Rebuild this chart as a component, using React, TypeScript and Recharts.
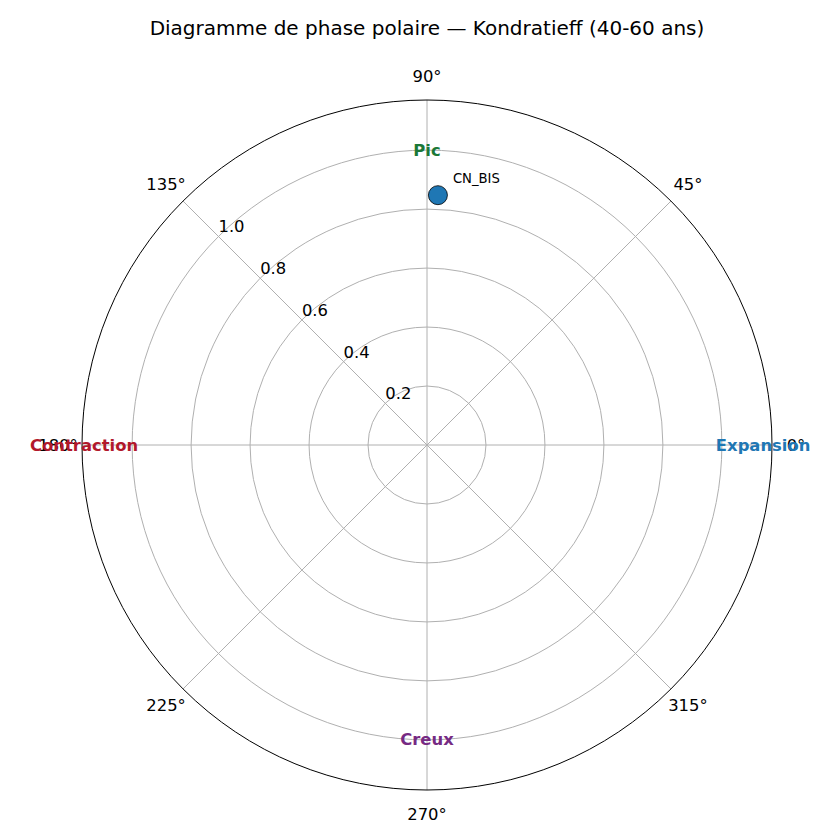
import React from "react"
import { RadarChart, PolarGrid, PolarAngleAxis, PolarRadiusAxis, Radar } from "recharts"

// axis ticks
const angleTicks = [0, 45, 90, 135, 180, 225, 270, 315]
const radiusTicks = [0.2, 0.4, 0.6, 0.8, 1.0]
const radiusMax = 1.17

// phase labels around the circle
const phaseNames = ["Expansion", "Pic", "Contraction", "Creux"]
const phaseAngles = [0, 90, 180, 270]
const phaseRadii = [1.0, 1.0, 1.0, 1.0]
const phaseColors = ["#1f77b4", "#1b7837", "#b2182b", "#762a83"]

// series
const seriesNames = ["CN_BIS"]
const seriesAngles = [87.5]
const seriesRadii = [0.848]

const data = [
  ...seriesNames.map((name, i) => ({ name, angle: seriesAngles[i], value: seriesRadii[i] })),
  ...phaseNames.map((name, i) => ({ name, angle: phaseAngles[i], phase: phaseRadii[i], color: phaseColors[i] })),
]

const FONT = "DejaVu Sans, sans-serif"

function AngleTick(props: any) {
  const { x, y, payload } = props
  return (
    <text x={x} y={y} textAnchor="middle" dominantBaseline="central" fontSize={16.4} fontFamily={FONT} fill="#000">
      {`${payload.value}°`}
    </text>
  )
}

function RadiusTick(props: any) {
  const { x, y, payload } = props
  return (
    <text x={x} y={y - 4} textAnchor="start" fontSize={16.4} fontFamily={FONT} fill="#000">
      {Number(payload.value).toFixed(1)}
    </text>
  )
}

function PointDot(props: any) {
  const { cx, cy, payload } = props
  const row = payload?.payload ?? payload
  if (row == null || row.value == null || !Number.isFinite(cx) || !Number.isFinite(cy)) return <g />
  return (
    <g>
      <circle cx={cx} cy={cy} r={9.5} fill="#1f77b4" stroke="#000" strokeWidth={0.8} />
      <text x={cx + 15} y={cy - 12} fontSize={13.2} fontFamily={FONT} fill="#000">
        {row.name}
      </text>
    </g>
  )
}

function PhaseLabel(props: any) {
  const { cx, cy, payload } = props
  const row = payload?.payload ?? payload
  if (row == null || row.phase == null || !Number.isFinite(cx) || !Number.isFinite(cy)) return <g />
  let anchor = "middle"
  let dx = 0
  if (row.angle === 0) {
    anchor = "start"
    dx = -6
  } else if (row.angle === 180) {
    anchor = "end"
    dx = 6
  }
  return (
    <text
      x={cx + dx}
      y={cy}
      textAnchor={anchor}
      dominantBaseline="central"
      fontSize={16.4}
      fontWeight="bold"
      fontFamily={FONT}
      fill={row.color}
    >
      {row.name}
    </text>
  )
}

export default function App() {
  return (
    <div style={{ position: "absolute", left: 0, top: 0, width: 840, height: 840, background: "#fff" }}>
      <div
        style={{
          position: "absolute",
          left: 0,
          width: 854,
          top: 15,
          textAlign: "center",
          fontFamily: FONT,
          fontSize: 20,
          lineHeight: "26px",
          color: "#000",
        }}
      >
        Diagramme de phase polaire — Kondratieff (40-60 ans)
      </div>
      <RadarChart
        width={840}
        height={840}
        data={data}
        cx={427}
        cy={445}
        outerRadius={345}
        startAngle={0}
        endAngle={360}
        margin={{ top: 0, right: 0, bottom: 0, left: 0 }}
      >
        <PolarGrid gridType="circle" stroke="#b0b0b0" strokeWidth={1} />
        <PolarAngleAxis
          dataKey="angle"
          type="number"
          domain={[0, 360]}
          ticks={angleTicks}
          tickLine={false}
          tickSize={24}
          axisLine={{ stroke: "#000", strokeWidth: 1 }}
          axisLineType="circle"
          tick={<AngleTick />}
        />
        <PolarRadiusAxis
          type="number"
          angle={135}
          domain={[0, radiusMax]}
          ticks={radiusTicks}
          axisLine={false}
          tickLine={false}
          tick={<RadiusTick />}
        />
        <Radar
          dataKey="phase"
          stroke="none"
          fill="none"
          dot={<PhaseLabel />}
          isAnimationActive={false}
        />
        <Radar
          dataKey="value"
          stroke="none"
          fill="none"
          dot={<PointDot />}
          isAnimationActive={false}
        />
      </RadarChart>
    </div>
  )
}
